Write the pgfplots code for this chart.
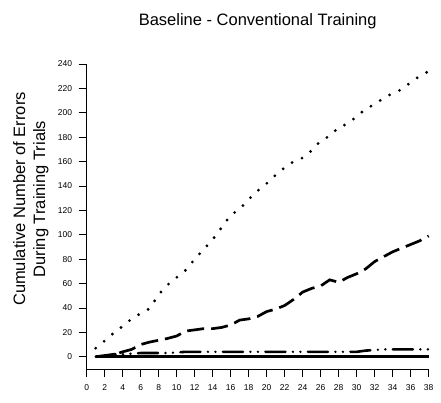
\documentclass[border=0pt]{standalone}
\usepackage{pgfplots}
\pgfplotsset{compat=1.18}
\usepackage{fontspec}
\setmainfont{Liberation Sans}

% Cumulative errors per trial, one table per group
\pgfplotstableread{
x y
1 7
2 13
3 19.5
4 25
5 31
6 35.5
7 39.5
8 51
9 59
10 65
11 71
12 80
13 88
14 96
15 106
16 116
17 121
18 129
19 136
20 142
21 149
22 155
23 160
24 163
25 169
26 177
27 181
28 188
29 191
30 197
31 203
32 207
33 212
34 216
35 219
36 225
37 230
38 234
}\dottedgroup

\pgfplotstableread{
x y
1 0
2 0.5
3 1.5
4 4
5 6
6 10
7 12
8 13.5
9 15
10 17
11 21
12 22
13 23
14 23
15 24
16 26
17 30
18 31
19 33
20 37
21 39
22 42
23 47
24 53
25 56
26 58
27 63
28 61
29 65
30 68
31 72
32 78
33 82
34 86
35 89
36 92
37 95
38 99
}\dashedgroup

\pgfplotstableread{
x y
1 0
2 1
3 2
4 2
5 2.5
6 3
7 3
8 3
9 3
10 3.5
11 4
12 4
13 4
14 4
15 4
16 4
17 4
18 4
19 4
20 4
21 4
22 4
23 4
24 4
25 4
26 4
27 4
28 4
29 4
30 4
31 5
32 5.5
33 6
34 6
35 6
36 6
37 6
38 6
}\dashdotgroup

\pgfplotstableread{
x y
1 0
38 0
}\solidgroup

\begin{document}
\begin{tikzpicture}
\useasboundingbox (0pt,0pt) rectangle (441pt,402pt);
\begin{axis}[
  at={(86.7pt,33.1pt)}, anchor=south west,
  scale only axis, width=342pt, height=305pt,
  xmin=0, xmax=38, ymin=-10, ymax=240,
  xtick={0,2,...,38}, ytick={0,20,...,240},
  axis lines*=left,
  axis line style={line width=0.8pt, -},
  tick align=outside, major tick length=8pt,
  tick style={black, line width=0.6pt},
  tick label style={font=\fontsize{8.5}{10}\selectfont},
  yticklabel style={xshift=-3pt},
  xticklabel style={yshift=-4pt},
  /pgf/number format/assume math mode=true,
  clip=false,
  title={Baseline - Conventional Training},
  title style={font=\fontsize{16.5}{20}\selectfont, anchor=base,
    at={(axis description cs:0.5,1)}, yshift=32.2pt},
  ylabel={Cumulative Number of Errors\\During Training Trials},
  ylabel style={font=\fontsize{16.5}{20}\selectfont, align=center,
    anchor=center, at={(axis description cs:-0.1636,0.557)}},
]
\addplot[black, line width=3.1pt, line cap=round,
  dash pattern=on 0pt off 10.9pt] table {\dottedgroup};
\addplot[black, line width=2.7pt,
  dash pattern=on 17pt off 7pt] table {\dashedgroup};
\addplot[black, line width=2.6pt, line cap=round,
  dash pattern=on 20pt off 7.5pt on 0pt off 7.5pt on 0pt off 7.5pt] table {\dashdotgroup};
\addplot[black, line width=3pt] table {\solidgroup};
\end{axis}
\end{tikzpicture}
\end{document}
